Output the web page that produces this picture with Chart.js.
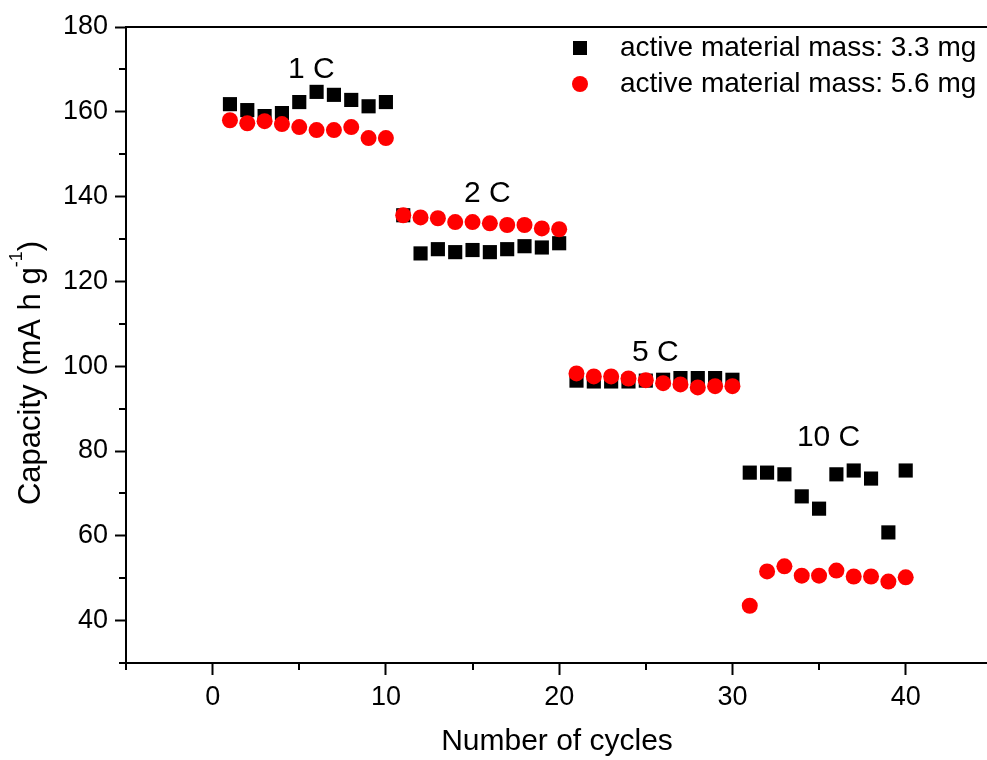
<!DOCTYPE html>
<html>
<head>
<meta charset="utf-8">
<script src="https://cdn.jsdelivr.net/npm/chart.js@4.4.1/dist/chart.umd.min.js"></script>
<style>
  html, body { margin: 0; padding: 0; background: #fff; overflow: hidden; }
  /* a bit wider than the window: Chart.js keeps ~11px on the right, which gets cropped */
  #wrap { width: 998px; height: 760px; position: relative; }
</style>
</head>
<body>
<div id="wrap"><canvas id="capacityChart"></canvas></div>
<script>
// Rate capability data
const cycles = [1,2,3,4,5,6,7,8,9,10,11,12,13,14,15,16,17,18,19,20,
                21,22,23,24,25,26,27,28,29,30,31,32,33,34,35,36,37,38,39,40];

const mass33 = [161.8,160.4,159.0,159.7,162.3,164.7,164.0,162.8,161.3,162.3,
                135.6,126.6,127.6,126.9,127.4,126.9,127.6,128.3,128.0,129.0,
                96.6,96.4,96.4,96.4,96.6,96.8,97.2,97.2,97.2,96.8,
                74.9,74.9,74.5,69.3,66.4,74.5,75.4,73.5,60.8,75.4];

const mass56 = [158.0,157.3,157.8,157.1,156.4,155.7,155.7,156.4,153.8,153.8,
                135.6,135.1,134.9,134.0,134.0,133.7,133.3,133.3,132.5,132.3,
                98.3,97.6,97.6,97.1,96.7,96.0,95.7,95.0,95.3,95.3,
                43.5,51.6,52.8,50.6,50.6,51.8,50.4,50.4,49.2,50.2];

const seriesLabels = ['active material mass: 3.3 mg', 'active material mass: 5.6 mg'];

// C-rate labels, placed in data coordinates
const rateLabels = ['1 C', '2 C', '5 C', '10 C'];
const rateX = [5.7, 15.85, 25.55, 35.55];
const rateY = [170.0, 140.6, 103.1, 83.1];

const FONT = "'Liberation Sans', Arial, sans-serif";

function toPoints(ys) {
    return cycles.map((c, i) => ({ x: c, y: ys[i] }));
}

// Minor ticks, top frame, y title with superscript, rate labels and legend
const decorPlugin = {
    id: 'decor',
    afterDraw(chart) {
        const ctx = chart.ctx;
        const area = chart.chartArea;
        const xs = chart.scales.x;
        const ys = chart.scales.y;
        ctx.save();
        ctx.strokeStyle = '#000';
        ctx.lineWidth = 2;

        // top frame line
        ctx.beginPath();
        ctx.moveTo(area.left, area.top);
        ctx.lineTo(chart.width, area.top);
        ctx.stroke();

        // minor ticks
        ctx.beginPath();
        ys.ticks.forEach(t => {
            if (t.value % 20 !== 0) {
                const py = Math.round(ys.getPixelForValue(t.value));
                ctx.moveTo(area.left - 7, py);
                ctx.lineTo(area.left, py);
            }
        });
        xs.ticks.forEach(t => {
            if (t.value % 10 !== 0) {
                const px = Math.round(xs.getPixelForValue(t.value));
                ctx.moveTo(px, area.bottom);
                ctx.lineTo(px, area.bottom + 7);
            }
        });
        ctx.stroke();

        ctx.fillStyle = '#000';

        // y axis title with superscript
        ctx.save();
        ctx.translate(31, 373);
        ctx.rotate(-Math.PI / 2);
        ctx.textBaseline = 'middle';
        const mainTxt = 'Capacity (mA h g';
        const supTxt = '-1';
        const endTxt = ')';
        ctx.font = '31px ' + FONT;
        const w1 = ctx.measureText(mainTxt).width;
        const w3 = ctx.measureText(endTxt).width;
        ctx.font = '18px ' + FONT;
        const w2 = ctx.measureText(supTxt).width;
        const total = w1 + w2 + w3;
        let cx = -total / 2;
        ctx.textAlign = 'left';
        ctx.font = '31px ' + FONT;
        ctx.fillText(mainTxt, cx, 0);
        cx += w1;
        ctx.font = '18px ' + FONT;
        ctx.fillText(supTxt, cx, -14);
        cx += w2;
        ctx.font = '31px ' + FONT;
        ctx.fillText(endTxt, cx, 0);
        ctx.restore();

        // rate labels
        ctx.font = '30px ' + FONT;
        ctx.textAlign = 'center';
        ctx.textBaseline = 'middle';
        rateLabels.forEach((lbl, i) => {
            ctx.fillText(lbl, xs.getPixelForValue(rateX[i]), ys.getPixelForValue(rateY[i]));
        });

        // legend
        const lx = 580, ly = [48, 84];
        ctx.fillStyle = '#000';
        ctx.fillRect(lx - 7, ly[0] - 7, 14, 14);
        ctx.fillStyle = '#ff0000';
        ctx.beginPath();
        ctx.arc(lx, ly[1], 8, 0, Math.PI * 2);
        ctx.fill();
        ctx.fillStyle = '#000';
        ctx.textAlign = 'left';
        ctx.font = '28px ' + FONT;
        ctx.fillText(seriesLabels[0], 620, ly[0]);
        ctx.fillText(seriesLabels[1], 620, ly[1]);

        ctx.restore();
    }
};

const ctx = document.getElementById('capacityChart').getContext('2d');

const capacityChart = new Chart(ctx, {
    type: 'scatter',
    data: {
        datasets: [
            {
                label: seriesLabels[0],
                data: toPoints(mass33),
                pointStyle: 'rect',
                pointRadius: 10,
                pointHoverRadius: 10,
                backgroundColor: '#000000',
                borderWidth: 0,
                order: 2
            },
            {
                label: seriesLabels[1],
                data: toPoints(mass56),
                pointStyle: 'circle',
                pointRadius: 8,
                pointHoverRadius: 8,
                backgroundColor: '#ff0000',
                borderWidth: 0,
                order: 1
            }
        ]
    },
    options: {
        responsive: true,
        maintainAspectRatio: false,
        animation: false,
        layout: {
            padding: { top: 27, right: 0, left: 0, bottom: 0 }
        },
        plugins: {
            legend: { display: false },
            tooltip: { enabled: false }
        },
        scales: {
            x: {
                type: 'linear',
                min: -5,
                max: 44.75,
                afterBuildTicks: scale => {
                    scale.ticks = scale.ticks.filter(t => t.value % 5 === 0);
                },
                afterFit: scale => {
                    scale.height = 97;
                    scale.paddingRight = 0;
                    scale.paddingLeft = 0;
                },
                border: { display: true, color: '#000', width: 2 },
                grid: {
                    drawOnChartArea: false,
                    drawTicks: true,
                    tickLength: 12,
                    tickWidth: 2,
                    tickColor: c => (c.tick && c.tick.value % 10 === 0) ? '#000' : 'rgba(0,0,0,0)'
                },
                ticks: {
                    stepSize: 5,
                    includeBounds: false,
                    autoSkip: false,
                    maxRotation: 0,
                    padding: 6,
                    color: '#000',
                    font: { family: FONT, size: 27 },
                    callback: v => (v % 10 === 0 ? String(v) : '')
                },
                title: {
                    display: true,
                    text: 'Number of cycles',
                    color: '#000',
                    font: { family: FONT, size: 30 },
                    padding: { top: 4, bottom: 0 }
                }
            },
            y: {
                type: 'linear',
                min: 30,
                max: 180,
                afterFit: scale => {
                    scale.width = 126;
                    scale.paddingTop = 0;
                    scale.paddingBottom = 0;
                },
                border: { display: true, color: '#000', width: 2 },
                grid: {
                    drawOnChartArea: false,
                    drawTicks: true,
                    tickLength: 11,
                    tickWidth: 2,
                    tickColor: c => (c.tick && c.tick.value % 20 === 0) ? '#000' : 'rgba(0,0,0,0)'
                },
                ticks: {
                    stepSize: 10,
                    autoSkip: false,
                    padding: 7,
                    color: '#000',
                    font: { family: FONT, size: 27 },
                    callback: v => (v % 20 === 0 ? String(v) : '')
                }
            }
        }
    },
    plugins: [decorPlugin]
});
</script>
</body>
</html>
